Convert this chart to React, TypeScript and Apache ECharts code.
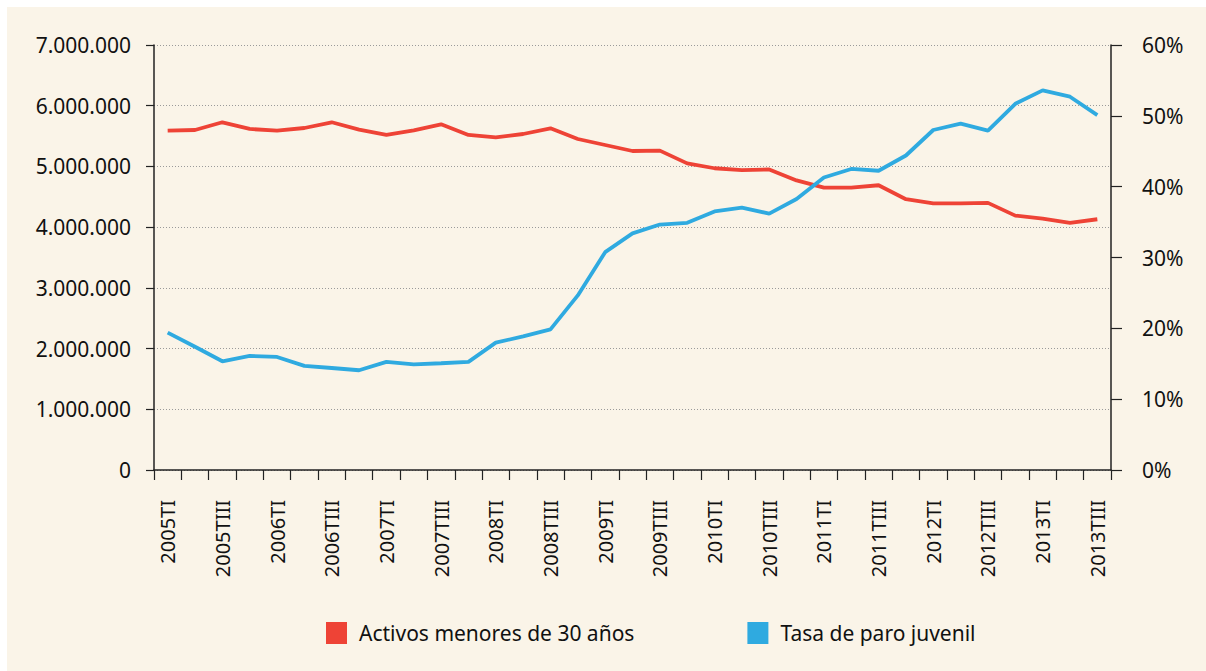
import React, { useEffect, useRef } from "react";
import * as echarts from "echarts";

const categories = [
  "2005TI", "2005TII", "2005TIII", "2005TIV",
  "2006TI", "2006TII", "2006TIII", "2006TIV",
  "2007TI", "2007TII", "2007TIII", "2007TIV",
  "2008TI", "2008TII", "2008TIII", "2008TIV",
  "2009TI", "2009TII", "2009TIII", "2009TIV",
  "2010TI", "2010TII", "2010TIII", "2010TIV",
  "2011TI", "2011TII", "2011TIII", "2011TIV",
  "2012TI", "2012TII", "2012TIII", "2012TIV",
  "2013TI", "2013TII", "2013TIII",
];

const activosMenores30 = [
  5589000, 5600000, 5727000, 5617000, 5589000, 5633000, 5727000, 5606000,
  5518000, 5595000, 5694000, 5518000, 5480000, 5534000, 5628000, 5452000,
  5353000, 5254000, 5260000, 5050000, 4970000, 4940000, 4950000, 4770000,
  4650000, 4650000, 4690000, 4460000, 4390000, 4390000, 4400000, 4190000,
  4140000, 4070000, 4130000,
];

const tasaParoJuvenil = [
  19.4, 17.4, 15.35, 16.1, 15.96, 14.7, 14.4, 14.08,
  15.26, 14.9, 15.07, 15.26, 17.98, 18.87, 19.86, 24.65,
  30.75, 33.4, 34.65, 34.9, 36.5, 37.04, 36.2, 38.26,
  41.3, 42.5, 42.25, 44.4, 48.0, 48.9, 47.9, 51.7,
  53.6, 52.7, 50.1,
];

const seriesNames = ["Activos menores de 30 años", "Tasa de paro juvenil"];

const RED = "#EE4336";
const BLUE = "#2FAAE0";
const TEXT = "#111111";
const AXIS = "#222222";
const CREAM = "#FAF4E8";
const FONT = "'Noto Sans', sans-serif";

function fmtThousands(v: number): string {
  return String(Math.round(v)).replace(/\B(?=(\d{3})+(?!\d))/g, ".");
}

export default function App() {
  const ref = useRef<HTMLDivElement>(null);

  useEffect(() => {
    if (!ref.current) return;
    const chart = echarts.init(ref.current, null, { renderer: "svg" });
    chart.setOption({
      animation: false,
      backgroundColor: "transparent",
      textStyle: { fontFamily: FONT, color: TEXT },
      grid: { left: 154, right: 95, top: 45, bottom: 201, containLabel: false },
      legend: {
        left: 326,
        top: 622,
        padding: 0,
        itemWidth: 21,
        itemHeight: 22,
        itemGap: 113,
        icon: "rect",
        data: seriesNames,
        textStyle: {
          fontFamily: FONT,
          fontSize: 21,
          color: TEXT,
          padding: [0, 0, 0, 7],
        },
      },
      xAxis: {
        type: "category",
        data: categories,
        boundaryGap: true,
        axisLine: { show: true, lineStyle: { color: AXIS, width: 1.5 } },
        axisTick: {
          show: true,
          interval: 0,
          length: 10,
          lineStyle: { color: AXIS, width: 1.2 },
        },
        axisLabel: {
          interval: 1,
          rotate: 90,
          margin: 30,
          fontSize: 20,
          fontFamily: FONT,
          color: TEXT,
        },
        splitLine: { show: false },
      },
      yAxis: [
        {
          type: "value",
          position: "left",
          min: 0,
          max: 7000000,
          interval: 1000000,
          axisLine: { show: true, lineStyle: { color: AXIS, width: 1.5 } },
          axisTick: { show: true, length: 8, lineStyle: { color: AXIS, width: 1.2 } },
          axisLabel: {
            margin: 23,
            fontSize: 21,
            fontFamily: FONT,
            color: TEXT,
            formatter: (v: number) => fmtThousands(v),
          },
          splitLine: {
            show: true,
            lineStyle: { color: "#9a9a9a", type: [1, 2], width: 1 },
          },
        },
        {
          type: "value",
          position: "right",
          min: 0,
          max: 60,
          interval: 10,
          axisLine: { show: true, lineStyle: { color: AXIS, width: 1.5 } },
          axisTick: { show: true, length: 11, lineStyle: { color: AXIS, width: 1.2 } },
          axisLabel: {
            margin: 31,
            fontSize: 21,
            fontFamily: FONT,
            color: TEXT,
            formatter: (v: number) => v + "%",
          },
          splitLine: { show: false },
        },
      ],
      series: [
        {
          name: seriesNames[0],
          type: "line",
          yAxisIndex: 0,
          data: activosMenores30,
          showSymbol: false,
          symbol: "none",
          color: RED,
          lineStyle: { color: RED, width: 3.8 },
        },
        {
          name: seriesNames[1],
          type: "line",
          yAxisIndex: 1,
          data: tasaParoJuvenil,
          showSymbol: false,
          symbol: "none",
          color: BLUE,
          lineStyle: { color: BLUE, width: 3.8 },
        },
      ],
    });
    return () => chart.dispose();
  }, []);

  return (
    <div
      style={{
        position: "fixed",
        left: 0,
        top: 0,
        width: 1206,
        height: 671,
        background: "#ffffff",
      }}
    >
      <div
        style={{
          position: "absolute",
          left: 7,
          top: 7,
          right: 0,
          bottom: 0,
          background: CREAM,
        }}
      />
      <div
        ref={ref}
        style={{ position: "absolute", left: 0, top: 0, width: 1206, height: 671 }}
      />
    </div>
  );
}
